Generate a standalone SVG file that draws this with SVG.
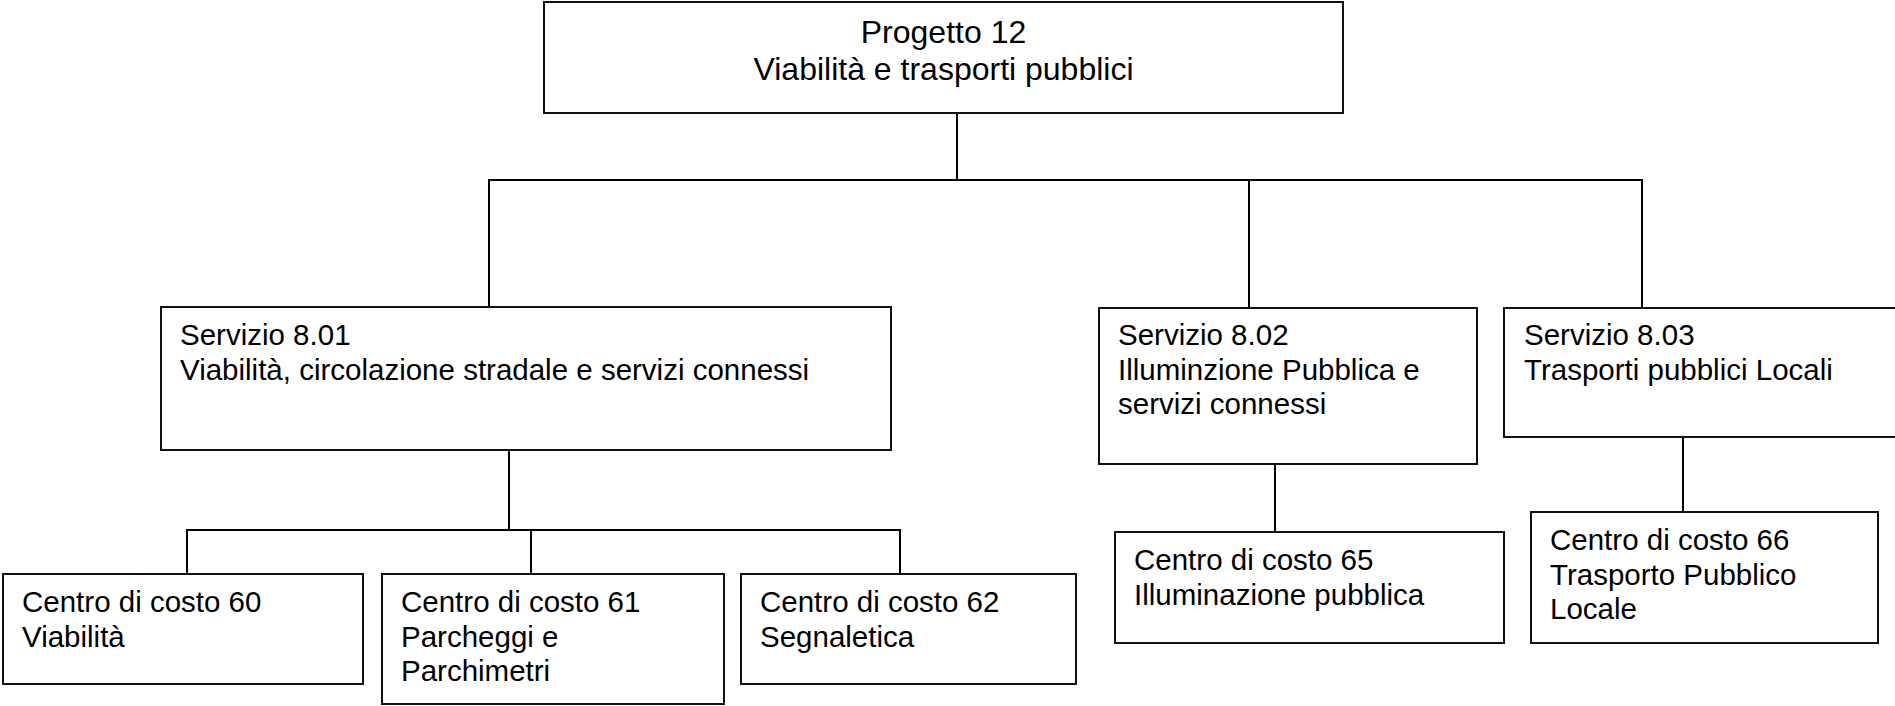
<svg xmlns="http://www.w3.org/2000/svg" width="1895" height="706" viewBox="0 0 1895 706">
<style>
.box{fill:#fff;stroke:#111;stroke-width:2}
.t{font-family:"Liberation Sans",Arial,sans-serif;font-size:29.5px;fill:#000}
.tt{font-family:"Liberation Sans",Arial,sans-serif;font-size:32px;fill:#000;text-anchor:middle}
.c{stroke:#000;stroke-width:2;fill:none}
</style>
<rect width="1895" height="706" fill="#fff"/>
<g id="connectors">
<line class="c" x1="957" y1="113" x2="957" y2="180"/>
<line class="c" x1="488" y1="180" x2="1643" y2="180"/>
<line class="c" x1="489" y1="180" x2="489" y2="307"/>
<line class="c" x1="1249" y1="180" x2="1249" y2="308"/>
<line class="c" x1="1642" y1="180" x2="1642" y2="308"/>
<line class="c" x1="509" y1="450" x2="509" y2="530"/>
<line class="c" x1="186" y1="530" x2="901" y2="530"/>
<line class="c" x1="187" y1="530" x2="187" y2="574"/>
<line class="c" x1="531" y1="530" x2="531" y2="574"/>
<line class="c" x1="900" y1="530" x2="900" y2="574"/>
<line class="c" x1="1275" y1="464" x2="1275" y2="532"/>
<line class="c" x1="1683" y1="437" x2="1683" y2="512"/>
</g>
<g id="progetto12">
<rect class="box" x="544" y="2" width="799" height="111"/>
<text class="tt" x="943.5" y="43">Progetto 12</text>
<text class="tt" x="943.5" y="80">Viabilità e trasporti pubblici</text>
</g>
<g id="servizio801">
<rect class="box" x="161" y="307" width="730" height="143"/>
<text class="t" x="180" y="345">Servizio 8.01</text>
<text class="t" x="180" y="379.5">Viabilità, circolazione stradale e servizi connessi</text>
</g>
<g id="servizio802">
<rect class="box" x="1099" y="308" width="378" height="156"/>
<text class="t" x="1118" y="345">Servizio 8.02</text>
<text class="t" x="1118" y="379.5">Illuminzione Pubblica e</text>
<text class="t" x="1118" y="414">servizi connessi</text>
</g>
<g id="servizio803">
<rect class="box" x="1504" y="308" width="400" height="129"/>
<text class="t" x="1524" y="345">Servizio 8.03</text>
<text class="t" x="1524" y="379.5">Trasporti pubblici Locali</text>
</g>
<g id="cdc60">
<rect class="box" x="3" y="574" width="360" height="110"/>
<text class="t" x="22" y="612">Centro di costo 60</text>
<text class="t" x="22" y="646.5">Viabilità</text>
</g>
<g id="cdc61">
<rect class="box" x="382" y="574" width="342" height="130"/>
<text class="t" x="401" y="612">Centro di costo 61</text>
<text class="t" x="401" y="646.5">Parcheggi e</text>
<text class="t" x="401" y="681">Parchimetri</text>
</g>
<g id="cdc62">
<rect class="box" x="741" y="574" width="335" height="110"/>
<text class="t" x="760" y="612">Centro di costo 62</text>
<text class="t" x="760" y="646.5">Segnaletica</text>
</g>
<g id="cdc65">
<rect class="box" x="1115" y="532" width="389" height="111"/>
<text class="t" x="1134" y="570">Centro di costo 65</text>
<text class="t" x="1134" y="604.5">Illuminazione pubblica</text>
</g>
<g id="cdc66">
<rect class="box" x="1531" y="512" width="347" height="131"/>
<text class="t" x="1550" y="550">Centro di costo 66</text>
<text class="t" x="1550" y="584.5">Trasporto Pubblico</text>
<text class="t" x="1550" y="619">Locale</text>
</g>
</svg>
